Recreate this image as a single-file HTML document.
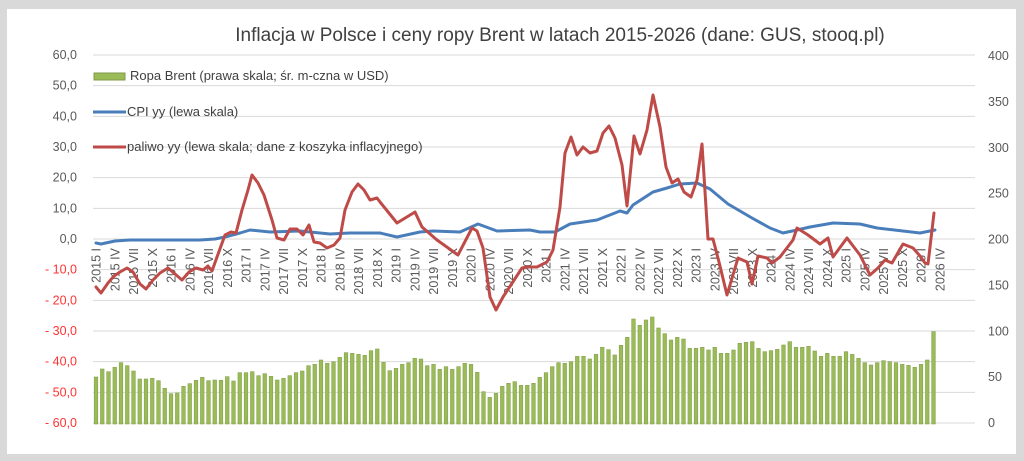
<!DOCTYPE html>
<html><head><meta charset="utf-8"><style>
html,body{margin:0;padding:0;background:#d9d9d9;}
svg{display:block;font-family:"Liberation Sans",sans-serif;}
</style></head><body>
<svg id="s" width="1024" height="461" xmlns="http://www.w3.org/2000/svg">
<rect x="0" y="0" width="1024" height="461" fill="#d9d9d9"/>
<rect x="7" y="9" width="1009" height="445" fill="#fff"/>
<text x="560" y="41" text-anchor="middle" font-size="19" fill="#404040">Inflacja w Polsce i ceny ropy Brent w latach 2015-2026 (dane: GUS, stooq.pl)</text>
<g id="grid"></g>
<g id="bars"></g>
<g id="xl"></g>
<g id="lines"></g>
<rect x="94" y="73" width="31" height="7" fill="#9bbb59" stroke="#7f9a48" stroke-width="1"/>
<text x="130" y="80" font-size="13" fill="#404040">Ropa Brent (prawa skala; śr. m-czna w USD)</text>
<line x1="93" y1="112" x2="126" y2="112" stroke="#4a7ebb" stroke-width="3"/>
<text x="127" y="116" font-size="13" fill="#404040">CPI yy (lewa skala)</text>
<line x1="93" y1="147" x2="126" y2="147" stroke="#be4b48" stroke-width="3"/>
<text x="127" y="151" font-size="13" fill="#404040">paliwo yy (lewa skala; dane z koszyka inflacyjnego)</text>
</svg>
<script>
var NS="http://www.w3.org/2000/svg";
function el(p,t,a,txt){var e=document.createElementNS(NS,t);for(var k in a)e.setAttribute(k,a[k]);if(txt!=null)e.textContent=txt;document.getElementById(p).appendChild(e);return e;}
for(var i=0;i<=12;i++){
  var v=60-10*i, y=55+i*30.6667;
  el("grid","line",{x1:93,x2:975,y1:y,y2:y,stroke:"#d9d9d9","stroke-width":1});
  var s=v<0?("- "+Math.abs(v)+",0"):(v+",0");
  el("grid","text",{x:77,y:y+4,"text-anchor":"end","font-size":12.5,fill:v<0?"#ff3333":"#595959"},s);
}
for(var i=0;i<=8;i++){
  var v=400-50*i, y=55+i*45.875;
  el("grid","text",{x:988,y:y+5,"font-size":12.5,fill:"#595959"},String(v));
}
var t1=[231,207,215,202,188,197,213,237,237,235,242,265,281,279,259,251,241,232,242,240,241,230,243,218,218,215,227,221,229,240,235,227,218,213,197,193,180,190,185,172,158,160,163,166,152,147,187,212,205,193,188,175,177,197,193,208,200,208,200,190,193,217,275];
var t2=[262,250,229,220,215,226,226,220,202,188,170,158,160,155,139,139,147,133,112,119,135,106,82,27,46,30,21,54,71,90,82,87,115,115,112,120,112,130,130,120,100,97,95,115,125,122,118,105,95,112,112,109,123,139,130,139,139,125,133,145,158,165,158,152,155,158,163,166,172,163,150,65];
var tops=t1.map(function(z){return 300+z/3;}).concat(t2.map(function(z){return 310+z/3;}));
for(var i=0;i<tops.length;i++){
  var x=96+6.25*i;
  el("bars","rect",{x:x-1.8,y:tops[i],width:3.6,height:424-tops[i],fill:"#9bbb59",stroke:"#86a34c","stroke-width":0.6});
}
var q=["I","IV","VII","X"];
for(var k=0;k<46;k++){
  var x=96+18.75*k, lab=(2015+Math.floor(k/4))+" "+q[k%4];
  el("xl","text",{x:0,y:0,"font-size":12.5,fill:"#595959","text-anchor":"end",transform:"translate("+(x+4.5)+",248) rotate(-90)"},lab);
}
var cpi=[[96,243],[101,244],[115,241],[130,240],[160,240],[200,240],[215,239],[225,237],[240,233],[250,230],[270,232],[300,231],[320,233],[330,234],[350,233],[380,233],[397,237],[420,232],[433,231],[460,232],[478,224],[497,231],[530,230],[540,232],[555,232],[570,224],[597,220],[620,211],[627,213],[633,205],[653,192],[667,188],[680,184],[697,183],[710,189],[728,204],[752,218],[770,228],[783,233],[797,230],[810,227],[833,223],[860,224],[877,228],[920,233],[935,230]];
var fuel=[[96,287],[101,293],[108,283],[114,276],[120,272],[127,268],[133,272],[140,284],[146,289],[153,280],[160,273],[168,268],[175,274],[182,280],[189,272],[196,268],[203,270],[208,266],[212,271],[217,257],[225,235],[231,232],[236,233],[242,210],[248,190],[252,175],[258,183],[264,195],[272,220],[277,238],[284,240],[290,229],[297,229],[303,235],[309,225],[314,242],[320,243],[327,248],[334,245],[340,238],[345,210],[352,192],[358,184],[364,190],[370,200],[377,198],[380,202],[397,223],[415,212],[422,227],[437,240],[458,255],[472,228],[477,231],[483,248],[490,297],[496,310],[503,297],[522,268],[527,267],[537,267],[547,262],[553,250],[560,207],[565,153],[571,137],[577,155],[583,147],[590,153],[597,151],[603,133],[609,126],[615,138],[622,165],[627,206],[634,136],[640,154],[647,130],[653,95],[660,127],[666,167],[672,183],[678,179],[684,192],[691,197],[697,180],[702,144],[708,239],[713,239],[719,262],[727,295],[738,258],[747,262],[752,284],[758,256],[767,258],[772,263],[780,257],[793,240],[797,228],[808,235],[820,244],[828,238],[833,257],[847,238],[860,255],[870,275],[878,268],[885,260],[892,263],[903,244],[913,248],[920,256],[925,263],[928,264],[934,213]];
function pts(a){return a.map(function(p){return p[0]+","+p[1];}).join(" ");}
el("lines","polyline",{points:pts(cpi),fill:"none",stroke:"#4a7ebb","stroke-width":3,"stroke-linejoin":"round","stroke-linecap":"round"});
el("lines","polyline",{points:pts(fuel),fill:"none",stroke:"#be4b48","stroke-width":3,"stroke-linejoin":"round","stroke-linecap":"round"});
</script>
</body></html>
